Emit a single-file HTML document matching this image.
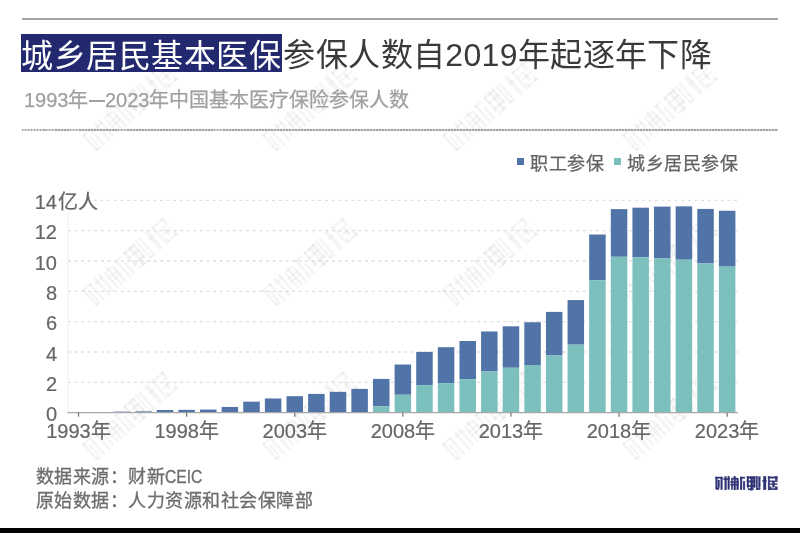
<!DOCTYPE html>
<html lang="zh-CN"><head><meta charset="utf-8">
<style>
html,body{margin:0;padding:0;background:#fff;}
body{width:800px;height:533px;position:relative;overflow:hidden;filter:blur(0.35px);font-family:"Liberation Sans",sans-serif;}
.abs{position:absolute;}
#rule{left:22px;top:18px;width:756px;height:2px;background:#a4a4a4;}
#tbox{left:21px;top:34px;width:261px;height:38px;background:#23296f;}
#title{left:21.3px;top:35px;font-size:32px;letter-spacing:0.46px;line-height:40px;color:#3a3a3a;white-space:nowrap;}
#title span{color:#fff;position:relative;top:0.7px;}
#sub{left:24px;top:87px;font-size:20px;line-height:26px;color:#a0a0a0;-webkit-text-stroke:0.25px #a0a0a0;white-space:nowrap;}
#sub .dash{display:inline-block;width:16.5px;height:1.8px;background:#a0a0a0;vertical-align:middle;margin:0 0 0 0;position:relative;top:-1px;}
#dots{left:22px;top:128.7px;width:755.5px;height:2px;background:repeating-linear-gradient(90deg,#a2a2a2 0 1.5px,#d4d4d4 1.5px 3px);}
.leg{top:152px;font-size:18px;letter-spacing:0.6px;line-height:24px;color:#636363;-webkit-text-stroke:0.25px #636363;white-space:nowrap;}
.sq{width:7px;height:7px;}
.yl{position:absolute;left:0;width:57px;text-align:right;font-size:20px;line-height:24px;color:#666;-webkit-text-stroke:0.2px #666;}
.xl{position:absolute;top:419px;width:80px;text-align:center;font-size:20px;line-height:24px;color:#666;-webkit-text-stroke:0.2px #666;}
.foot{left:35.5px;font-size:18px;letter-spacing:0.53px;line-height:24px;color:#6e6e6e;-webkit-text-stroke:0.3px #6e6e6e;white-space:nowrap;}
#logo{left:715px;top:472px;font-size:15px;line-height:20px;color:#2b2d6e;font-weight:900;white-space:nowrap;}
#black{left:0;top:528px;width:800px;height:5px;background:#000;}
</style></head><body>
<svg class="abs" style="left:0;top:0" width="800" height="533"><defs><g id="lg"><rect x="715.7" y="477.0" width="1.6" height="12.0"/><rect x="718.0" y="480.0" width="1.5" height="7.5"/><rect x="720.8" y="477.0" width="1.6" height="12.8"/><rect x="715.7" y="477.0" width="6.7" height="1.3"/><rect x="716.2" y="487.8" width="2.8" height="1.8"/><rect x="724.8" y="476.7" width="1.7" height="13.2"/><rect x="727.9" y="476.7" width="1.6" height="12.8"/><rect x="723.8" y="478.6" width="5.7" height="1.2"/><rect x="731.3" y="479.0" width="1.3" height="10.8"/><rect x="733.9" y="476.5" width="1.7" height="13.4"/><rect x="736.8" y="479.0" width="1.7" height="10.8"/><rect x="730.8" y="481.8" width="8.0" height="1.0"/><rect x="730.8" y="484.2" width="8.0" height="1.0"/><rect x="731.6" y="478.0" width="6.5" height="1.1"/><rect x="740.2" y="477.0" width="1.8" height="12.8"/><rect x="743.2" y="481.4" width="1.7" height="8.4"/><rect x="740.2" y="477.0" width="4.7" height="1.3"/><rect x="747.0" y="476.8" width="1.7" height="10.8"/><rect x="750.7" y="476.8" width="2.1" height="13.4"/><rect x="753.4" y="476.8" width="1.7" height="10.8"/><rect x="747.0" y="476.8" width="8.1" height="1.6"/><rect x="747.0" y="480.8" width="8.1" height="1.3"/><rect x="747.0" y="485.2" width="8.1" height="1.5"/><rect x="748.0" y="488.5" width="5.5" height="1.4"/><rect x="756.1" y="476.4" width="1.4" height="13.4"/><rect x="758.5" y="476.8" width="1.7" height="11.0"/><rect x="756.8" y="488.2" width="3.4" height="1.6"/><rect x="763.4" y="476.4" width="2.6" height="13.4"/><rect x="762.8" y="480.5" width="3.8" height="1.2"/><rect x="768.1" y="476.8" width="1.4" height="13.2"/><rect x="768.1" y="476.8" width="9.1" height="1.4"/><rect x="775.2" y="476.8" width="2.0" height="3.7"/><rect x="769.5" y="480.8" width="7.7" height="1.1"/><rect x="772.5" y="482.0" width="2.0" height="5.2"/><rect x="769.5" y="483.7" width="7.7" height="1.0"/><rect x="769.8" y="486.8" width="1.3" height="3.0"/><rect x="775.2" y="486.8" width="2.0" height="3.0"/><rect x="769.8" y="488.5" width="7.4" height="1.3"/></g></defs><g fill="#000" fill-opacity="0.04"><g transform="translate(130 107) rotate(-42) scale(1.78) translate(-746.6 -483.3)"><use href="#lg"/></g><g transform="translate(310 107) rotate(-42) scale(1.78) translate(-746.6 -483.3)"><use href="#lg"/></g><g transform="translate(490 107) rotate(-42) scale(1.78) translate(-746.6 -483.3)"><use href="#lg"/></g><g transform="translate(670 107) rotate(-42) scale(1.78) translate(-746.6 -483.3)"><use href="#lg"/></g><g transform="translate(130 262) rotate(-42) scale(1.78) translate(-746.6 -483.3)"><use href="#lg"/></g><g transform="translate(310 262) rotate(-42) scale(1.78) translate(-746.6 -483.3)"><use href="#lg"/></g><g transform="translate(490 262) rotate(-42) scale(1.78) translate(-746.6 -483.3)"><use href="#lg"/></g><g transform="translate(670 262) rotate(-42) scale(1.78) translate(-746.6 -483.3)"><use href="#lg"/></g><g transform="translate(130 416) rotate(-42) scale(1.78) translate(-746.6 -483.3)"><use href="#lg"/></g><g transform="translate(310 416) rotate(-42) scale(1.78) translate(-746.6 -483.3)"><use href="#lg"/></g><g transform="translate(490 416) rotate(-42) scale(1.78) translate(-746.6 -483.3)"><use href="#lg"/></g><g transform="translate(670 416) rotate(-42) scale(1.78) translate(-746.6 -483.3)"><use href="#lg"/></g></g></svg>
<div id="rule" class="abs"></div>
<div id="tbox" class="abs"></div>
<div id="title" class="abs"><span>城乡居民基本医保</span><b style="font-weight:normal;margin-left:2.5px;letter-spacing:0.35px">参保人数自2019年起逐年下降</b></div>
<div id="sub" class="abs">1993年<span class="dash"></span>2023年中国基本医疗保险参保人数</div>
<div id="dots" class="abs"></div>
<div class="abs sq" style="left:517px;top:158px;background:#5073a8"></div>
<div class="abs leg" style="left:530px">职工参保</div>
<div class="abs sq" style="left:614px;top:158px;background:#7cc0bd"></div>
<div class="abs leg" style="left:627px">城乡居民参保</div>
<svg class="abs" style="left:0;top:0" width="800" height="533">
<line x1="68" y1="212" x2="68" y2="412.7" stroke="#eee" stroke-width="1"/>
<line x1="68" y1="382.36" x2="738" y2="382.36" stroke="#dedede" stroke-width="1.3" stroke-dasharray="2.8 3.8"/><line x1="68" y1="352.02" x2="738" y2="352.02" stroke="#dedede" stroke-width="1.3" stroke-dasharray="2.8 3.8"/><line x1="68" y1="321.68" x2="738" y2="321.68" stroke="#dedede" stroke-width="1.3" stroke-dasharray="2.8 3.8"/><line x1="68" y1="291.34" x2="738" y2="291.34" stroke="#dedede" stroke-width="1.3" stroke-dasharray="2.8 3.8"/><line x1="68" y1="261.00" x2="738" y2="261.00" stroke="#dedede" stroke-width="1.3" stroke-dasharray="2.8 3.8"/><line x1="68" y1="230.66" x2="738" y2="230.66" stroke="#dedede" stroke-width="1.3" stroke-dasharray="2.8 3.8"/><line x1="94" y1="200.32" x2="738" y2="200.32" stroke="#dedede" stroke-width="1.3" stroke-dasharray="2.8 3.8"/>
<rect x="70.30" y="412.30" width="16.5" height="0.40" fill="#5073a8"/><rect x="91.92" y="412.09" width="16.5" height="0.61" fill="#5073a8"/><rect x="113.54" y="411.64" width="16.5" height="1.06" fill="#5073a8"/><rect x="135.16" y="411.40" width="16.5" height="1.30" fill="#5073a8"/><rect x="156.78" y="410.03" width="16.5" height="2.67" fill="#5073a8"/><rect x="178.40" y="409.86" width="16.5" height="2.84" fill="#5073a8"/><rect x="200.02" y="409.57" width="16.5" height="3.13" fill="#5073a8"/><rect x="221.64" y="406.97" width="16.5" height="5.73" fill="#5073a8"/><rect x="243.26" y="401.67" width="16.5" height="11.03" fill="#5073a8"/><rect x="264.88" y="398.47" width="16.5" height="14.23" fill="#5073a8"/><rect x="286.50" y="396.19" width="16.5" height="16.51" fill="#5073a8"/><rect x="308.12" y="393.92" width="16.5" height="18.78" fill="#5073a8"/><rect x="329.74" y="391.83" width="16.5" height="20.87" fill="#5073a8"/><rect x="351.36" y="388.88" width="16.5" height="23.82" fill="#5073a8"/><rect x="372.98" y="378.92" width="16.5" height="27.27" fill="#5073a8"/><rect x="372.98" y="406.19" width="16.5" height="6.51" fill="#7cc0bd"/><rect x="394.60" y="364.52" width="16.5" height="30.24" fill="#5073a8"/><rect x="394.60" y="394.76" width="16.5" height="17.94" fill="#7cc0bd"/><rect x="416.22" y="351.92" width="16.5" height="33.16" fill="#5073a8"/><rect x="416.22" y="385.08" width="16.5" height="27.62" fill="#7cc0bd"/><rect x="437.84" y="347.20" width="16.5" height="35.88" fill="#5073a8"/><rect x="437.84" y="383.08" width="16.5" height="29.62" fill="#7cc0bd"/><rect x="459.46" y="341.02" width="16.5" height="38.13" fill="#5073a8"/><rect x="459.46" y="379.15" width="16.5" height="33.55" fill="#7cc0bd"/><rect x="481.08" y="331.49" width="16.5" height="40.02" fill="#5073a8"/><rect x="481.08" y="371.50" width="16.5" height="41.20" fill="#7cc0bd"/><rect x="502.70" y="326.29" width="16.5" height="41.46" fill="#5073a8"/><rect x="502.70" y="367.75" width="16.5" height="44.95" fill="#7cc0bd"/><rect x="524.32" y="322.24" width="16.5" height="42.75" fill="#5073a8"/><rect x="524.32" y="364.99" width="16.5" height="47.71" fill="#7cc0bd"/><rect x="545.94" y="311.89" width="16.5" height="43.63" fill="#5073a8"/><rect x="545.94" y="355.53" width="16.5" height="57.17" fill="#7cc0bd"/><rect x="567.56" y="300.07" width="16.5" height="44.58" fill="#5073a8"/><rect x="567.56" y="344.65" width="16.5" height="68.05" fill="#7cc0bd"/><rect x="589.18" y="234.53" width="16.5" height="45.65" fill="#5073a8"/><rect x="589.18" y="280.18" width="16.5" height="132.52" fill="#7cc0bd"/><rect x="610.80" y="209.13" width="16.5" height="47.66" fill="#5073a8"/><rect x="610.80" y="256.79" width="16.5" height="155.91" fill="#7cc0bd"/><rect x="632.42" y="207.69" width="16.5" height="49.54" fill="#5073a8"/><rect x="632.42" y="257.23" width="16.5" height="155.47" fill="#7cc0bd"/><rect x="654.04" y="206.60" width="16.5" height="51.86" fill="#5073a8"/><rect x="654.04" y="258.46" width="16.5" height="154.24" fill="#7cc0bd"/><rect x="675.66" y="206.35" width="16.5" height="53.34" fill="#5073a8"/><rect x="675.66" y="259.69" width="16.5" height="153.01" fill="#7cc0bd"/><rect x="697.28" y="208.93" width="16.5" height="54.58" fill="#5073a8"/><rect x="697.28" y="263.50" width="16.5" height="149.20" fill="#7cc0bd"/><rect x="718.90" y="210.75" width="16.5" height="55.87" fill="#5073a8"/><rect x="718.90" y="266.62" width="16.5" height="146.08" fill="#7cc0bd"/>
<line x1="67.5" y1="412.7" x2="738" y2="412.7" stroke="#a8a8a8" stroke-width="1.3"/>
<line x1="78.55" y1="412.7" x2="78.55" y2="416.7" stroke="#707070" stroke-width="1.2"/><line x1="186.65" y1="412.7" x2="186.65" y2="416.7" stroke="#707070" stroke-width="1.2"/><line x1="294.75" y1="412.7" x2="294.75" y2="416.7" stroke="#707070" stroke-width="1.2"/><line x1="402.85" y1="412.7" x2="402.85" y2="416.7" stroke="#707070" stroke-width="1.2"/><line x1="510.95" y1="412.7" x2="510.95" y2="416.7" stroke="#707070" stroke-width="1.2"/><line x1="619.05" y1="412.7" x2="619.05" y2="416.7" stroke="#707070" stroke-width="1.2"/><line x1="727.15" y1="412.7" x2="727.15" y2="416.7" stroke="#707070" stroke-width="1.2"/>
</svg>
<div class="yl" style="top:402.2px">0</div><div class="yl" style="top:371.9px">2</div><div class="yl" style="top:341.5px">4</div><div class="yl" style="top:311.2px">6</div><div class="yl" style="top:280.8px">8</div><div class="yl" style="top:250.5px">10</div><div class="yl" style="top:220.2px">12</div><div class="yl" style="top:190.3px">14</div>
<div class="abs" style="left:58px;top:190.3px;font-size:20px;line-height:24px;color:#666;-webkit-text-stroke:0.2px #666">亿人</div>
<div class="xl" style="left:38.5px">1993年</div><div class="xl" style="left:146.7px">1998年</div><div class="xl" style="left:254.8px">2003年</div><div class="xl" style="left:362.9px">2008年</div><div class="xl" style="left:471.0px">2013年</div><div class="xl" style="left:579.0px">2018年</div><div class="xl" style="left:687.1px">2023年</div>
<div class="abs foot" style="top:465.2px">数据来源：财新<span style="display:inline-block;letter-spacing:0;transform:scaleX(0.87);transform-origin:0 0">CEIC</span></div>
<div class="abs foot" style="top:489.4px">原始数据：人力资源和社会保障部</div>
<svg class="abs" style="left:0;top:0" width="800" height="533"><use href="#lg" fill="#2f3274" stroke="#2f3274" stroke-width="0.35"/></svg>
<div id="black" class="abs"></div>
</body></html>
